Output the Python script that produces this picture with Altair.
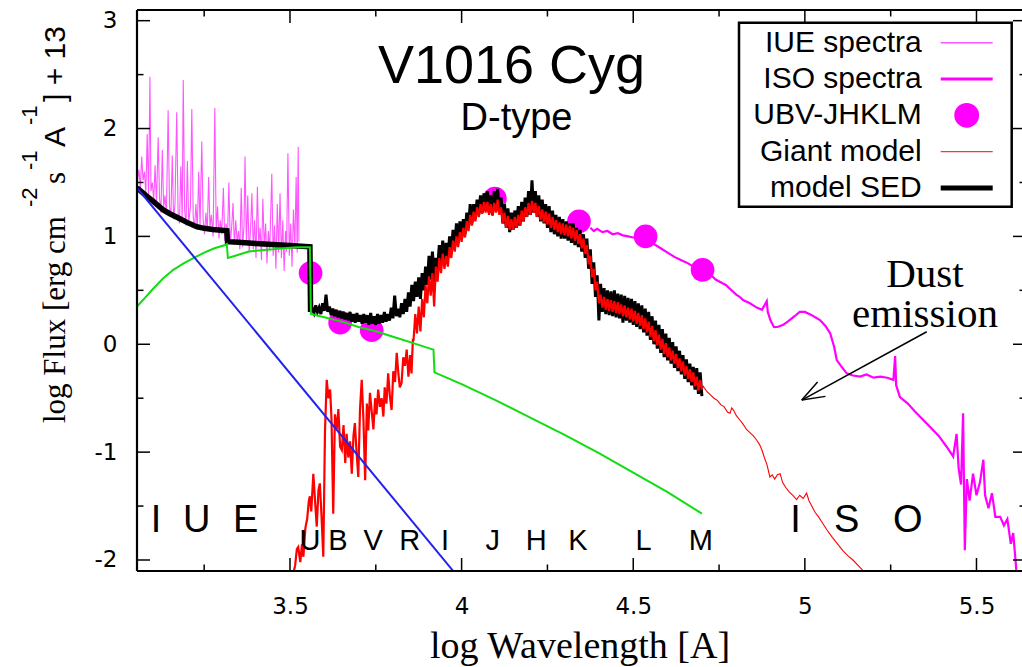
import altair as alt
import pandas as pd

# ---------------------------------------------------------------- data
# IUE ultraviolet spectrum (log lambda [A], log flux + 13)
iue = [
    (3.055, 1.50), (3.060, 1.62), (3.064, 1.45), (3.068, 1.74), (3.072, 1.52),
    (3.076, 1.60), (3.080, 1.40), (3.084, 1.95), (3.088, 1.38), (3.092, 2.48),
    (3.095, 1.42), (3.099, 1.50), (3.103, 1.33), (3.107, 1.66), (3.111, 1.30),
    (3.116, 1.92), (3.120, 1.35), (3.124, 1.22), (3.128, 1.80), (3.132, 1.26),
    (3.136, 1.38), (3.140, 1.20), (3.145, 2.17), (3.149, 1.28), (3.153, 1.18),
    (3.157, 1.75), (3.161, 1.16), (3.165, 1.30), (3.170, 2.15), (3.174, 1.22),
    (3.178, 1.12), (3.182, 1.65), (3.186, 1.15), (3.189, 2.45), (3.193, 1.25),
    (3.197, 1.10), (3.201, 1.70), (3.205, 1.12), (3.210, 1.28), (3.214, 2.18),
    (3.218, 1.18), (3.222, 1.08), (3.226, 1.30), (3.230, 1.06), (3.234, 1.60),
    (3.238, 1.10), (3.243, 1.88), (3.247, 1.15), (3.251, 1.02), (3.255, 1.22),
    (3.259, 1.05), (3.263, 1.55), (3.267, 1.08), (3.271, 1.20), (3.276, 1.00),
    (3.281, 2.19), (3.285, 1.05), (3.289, 1.28), (3.293, 0.98), (3.297, 1.15),
    (3.301, 1.02), (3.306, 1.45), (3.310, 0.96), (3.314, 1.12), (3.318, 0.98),
    (3.322, 1.50), (3.326, 0.94), (3.330, 1.08), (3.334, 1.31), (3.338, 0.92),
    (3.342, 1.15), (3.346, 0.95), (3.350, 1.05), (3.354, 0.88), (3.358, 1.45),
    (3.362, 0.90), (3.366, 1.10), (3.369, 1.74), (3.373, 0.92), (3.377, 1.38),
    (3.381, 0.85), (3.385, 1.05), (3.389, 1.40), (3.393, 0.88), (3.397, 1.15),
    (3.401, 0.80), (3.405, 1.46), (3.409, 0.92), (3.413, 1.08), (3.417, 0.78),
    (3.421, 1.35), (3.425, 0.90), (3.429, 1.12), (3.433, 0.75), (3.437, 1.05),
    (3.441, 0.88), (3.447, 1.58), (3.451, 0.82), (3.455, 1.10), (3.459, 0.70),
    (3.463, 1.30), (3.467, 0.85), (3.471, 1.40), (3.475, 0.80), (3.479, 1.15),
    (3.483, 0.68), (3.487, 1.05), (3.490, 0.86), (3.494, 1.77), (3.498, 0.82),
    (3.502, 1.12), (3.506, 0.72), (3.510, 1.25), (3.514, 0.90), (3.518, 1.55),
    (3.521, 0.85), (3.524, 1.83), (3.526, 0.95),
]

# ISO infrared spectrum
iso = [
    (4.375, 1.08), (4.385, 1.05), (4.395, 1.07), (4.410, 1.04), (4.425, 1.05),
    (4.440, 1.02), (4.455, 1.03), (4.470, 1.01), (4.485, 1.00), (4.500, 0.99),
    (4.520, 0.98), (4.540, 0.96), (4.560, 0.93), (4.580, 0.89), (4.600, 0.85),
    (4.620, 0.81), (4.640, 0.78), (4.660, 0.75), (4.680, 0.71), (4.700, 0.69),
    (4.720, 0.64), (4.730, 0.63), (4.740, 0.60), (4.760, 0.565), (4.770, 0.55),
    (4.780, 0.52), (4.800, 0.46), (4.810, 0.44), (4.820, 0.41), (4.840, 0.38),
    (4.860, 0.34), (4.875, 0.32), (4.889, 0.40), (4.892, 0.30), (4.900, 0.22),
    (4.910, 0.16), (4.920, 0.16), (4.937, 0.18), (4.950, 0.21), (4.970, 0.26),
    (4.985, 0.30), (5.000, 0.30), (5.020, 0.27), (5.030, 0.25), (5.044, 0.225),
    (5.060, 0.17), (5.074, 0.10), (5.085, -0.02), (5.093, -0.146), (5.105, -0.20),
    (5.122, -0.27), (5.140, -0.29), (5.161, -0.30), (5.180, -0.28), (5.200, -0.31),
    (5.220, -0.30), (5.240, -0.31), (5.258, -0.33), (5.263, -0.11), (5.266, -0.38),
    (5.277, -0.49), (5.300, -0.55), (5.320, -0.62), (5.335, -0.67), (5.360, -0.75),
    (5.390, -0.85), (5.413, -0.95), (5.432, -1.04), (5.442, -0.83), (5.448, -1.15),
    (5.455, -1.30), (5.461, -0.64), (5.466, -1.91), (5.472, -1.25), (5.480, -1.45),
    (5.490, -1.20), (5.500, -1.40), (5.510, -1.28), (5.520, -1.07), (5.525, -1.40),
    (5.535, -1.52), (5.545, -1.38), (5.555, -1.60), (5.569, -1.60), (5.580, -1.68),
    (5.590, -1.62), (5.600, -1.85), (5.607, -1.75), (5.615, -2.05), (5.620, -2.30),
]

# broad-band photometry U B V J K L M
phot_band = ["U", "B", "V", "J", "K", "L", "M"]
phot_x = [3.560, 3.646, 3.738, 4.097, 4.342, 4.536, 4.702]
phot_y = [0.66, 0.20, 0.13, 1.35, 1.14, 1.00, 0.69]

# hot component (blue) and nebular continuum (green)
hot = [(3.0543, 1.45), (3.975, -2.10)]
nebular = [
    (3.0543, 0.35), (3.080, 0.44), (3.100, 0.51), (3.130, 0.61), (3.160, 0.69),
    (3.190, 0.75), (3.220, 0.80), (3.250, 0.85), (3.280, 0.89), (3.311, 0.92),
    (3.316, 0.93), (3.319, 0.80), (3.350, 0.83), (3.380, 0.86), (3.410, 0.87),
    (3.451, 0.88), (3.480, 0.89), (3.520, 0.90), (3.558, 0.90), (3.561, 0.28),
    (3.600, 0.25), (3.650, 0.21), (3.700, 0.16), (3.750, 0.12), (3.800, 0.07),
    (3.850, 0.02), (3.918, -0.05), (3.921, -0.26), (4.000, -0.37), (4.100, -0.52),
    (4.200, -0.68), (4.300, -0.84), (4.400, -1.01), (4.500, -1.19), (4.600, -1.37),
    (4.700, -1.57),
]

# total model SED: smooth ultraviolet part, then the giant-dominated part
sed_uv = [
    (3.0543, 1.45), (3.080, 1.38), (3.100, 1.33), (3.131, 1.245), (3.150, 1.21),
    (3.175, 1.17), (3.200, 1.13), (3.228, 1.09), (3.250, 1.075), (3.275, 1.065),
    (3.300, 1.058), (3.316, 1.053), (3.318, 0.951), (3.350, 0.945), (3.400, 0.935),
    (3.450, 0.925), (3.500, 0.915), (3.558, 0.904), (3.560, 0.30),
]
sed_ir = [
    (3.560, 0.30), (3.565, 0.33), (3.570, 0.29), (3.575, 0.36), (3.580, 0.30),
    (3.585, 0.34), (3.590, 0.28), (3.595, 0.38), (3.600, 0.31), (3.605, 0.46),
    (3.610, 0.30), (3.615, 0.35), (3.620, 0.27), (3.625, 0.33), (3.630, 0.26),
    (3.635, 0.32), (3.640, 0.25), (3.645, 0.31), (3.650, 0.24), (3.655, 0.30),
    (3.660, 0.23), (3.665, 0.29), (3.670, 0.22), (3.675, 0.30), (3.680, 0.21),
    (3.685, 0.28), (3.690, 0.20), (3.695, 0.29), (3.700, 0.21), (3.705, 0.27),
    (3.710, 0.19), (3.715, 0.28), (3.720, 0.20), (3.725, 0.27), (3.730, 0.18),
    (3.735, 0.29), (3.740, 0.19), (3.745, 0.26), (3.750, 0.18), (3.755, 0.28),
    (3.760, 0.19), (3.765, 0.27), (3.770, 0.20), (3.775, 0.30), (3.780, 0.21),
    (3.785, 0.28), (3.790, 0.22), (3.795, 0.34), (3.800, 0.24), (3.805, 0.45),
    (3.810, 0.26), (3.815, 0.33), (3.820, 0.25), (3.825, 0.38), (3.830, 0.28),
    (3.835, 0.42), (3.840, 0.30), (3.845, 0.48), (3.850, 0.35), (3.855, 0.55),
    (3.860, 0.40), (3.865, 0.58), (3.870, 0.44), (3.875, 0.62), (3.880, 0.42),
    (3.885, 0.66), (3.890, 0.50), (3.895, 0.72), (3.900, 0.55), (3.905, 0.82),
    (3.910, 0.60), (3.915, 0.86), (3.920, 0.58), (3.925, 0.80), (3.930, 0.70),
    (3.935, 0.92), (3.940, 0.74), (3.945, 0.96), (3.950, 0.78), (3.955, 0.94),
    (3.960, 0.80), (3.965, 1.00), (3.970, 0.84), (3.975, 1.06), (3.980, 0.90),
    (3.985, 1.12), (3.990, 0.94), (3.995, 1.14), (4.000, 0.98), (4.005, 1.16),
    (4.010, 1.02), (4.015, 1.22), (4.020, 1.08), (4.025, 1.30), (4.030, 1.12),
    (4.035, 1.30), (4.040, 1.16), (4.045, 1.34), (4.050, 1.20), (4.055, 1.38),
    (4.060, 1.22), (4.065, 1.40), (4.070, 1.24), (4.075, 1.42), (4.080, 1.22),
    (4.085, 1.38), (4.090, 1.20), (4.095, 1.42), (4.100, 1.24), (4.105, 1.44),
    (4.110, 1.22), (4.115, 1.36), (4.120, 1.12), (4.125, 1.30), (4.130, 1.08),
    (4.135, 1.26), (4.140, 1.04), (4.145, 1.22), (4.150, 1.06), (4.155, 1.24),
    (4.160, 1.08), (4.165, 1.28), (4.170, 1.10), (4.175, 1.32), (4.180, 1.14),
    (4.185, 1.36), (4.190, 1.18), (4.195, 1.42), (4.200, 1.20), (4.205, 1.52),
    (4.210, 1.22), (4.215, 1.42), (4.220, 1.18), (4.225, 1.38), (4.230, 1.14),
    (4.235, 1.34), (4.240, 1.12), (4.245, 1.30), (4.250, 1.08), (4.255, 1.28),
    (4.260, 1.04), (4.265, 1.24), (4.270, 1.02), (4.275, 1.20), (4.280, 1.00),
    (4.285, 1.18), (4.290, 0.98), (4.295, 1.16), (4.300, 0.98), (4.305, 1.14),
    (4.310, 0.96), (4.315, 1.12), (4.320, 0.94), (4.325, 1.12), (4.330, 0.92),
    (4.335, 1.08), (4.340, 0.90), (4.345, 1.06), (4.350, 0.86), (4.355, 1.02),
    (4.360, 0.80), (4.365, 0.98), (4.370, 0.70), (4.375, 0.88), (4.380, 0.56),
    (4.385, 0.76), (4.390, 0.44), (4.395, 0.64), (4.400, 0.22), (4.405, 0.56),
    (4.410, 0.30), (4.415, 0.52), (4.420, 0.28), (4.425, 0.50), (4.430, 0.27),
    (4.435, 0.49), (4.440, 0.26), (4.445, 0.50), (4.450, 0.25), (4.455, 0.47),
    (4.460, 0.24), (4.465, 0.46), (4.470, 0.20), (4.475, 0.45), (4.480, 0.22),
    (4.485, 0.43), (4.490, 0.20), (4.495, 0.42), (4.500, 0.18), (4.505, 0.40),
    (4.510, 0.16), (4.515, 0.38), (4.520, 0.14), (4.525, 0.36), (4.530, 0.11),
    (4.535, 0.33), (4.540, 0.08), (4.545, 0.30), (4.550, 0.04), (4.555, 0.26),
    (4.560, 0.00), (4.565, 0.22), (4.570, -0.04), (4.575, 0.18), (4.580, -0.08),
    (4.585, 0.14), (4.590, -0.12), (4.595, 0.10), (4.600, -0.15), (4.605, 0.06),
    (4.610, -0.18), (4.615, 0.02), (4.620, -0.22), (4.625, -0.02), (4.630, -0.25),
    (4.635, -0.06), (4.640, -0.28), (4.645, -0.10), (4.650, -0.32), (4.655, -0.14),
    (4.660, -0.35), (4.665, -0.18), (4.670, -0.38), (4.675, -0.21), (4.680, -0.42),
    (4.685, -0.22), (4.690, -0.46), (4.695, -0.26), (4.700, -0.48),
]

# cool giant model spectrum
giant = [
    (3.505, -2.20), (3.515, -2.05), (3.520, -1.90), (3.524, -1.88), (3.530, -2.02),
    (3.535, -1.85), (3.539, -1.97), (3.545, -1.70), (3.550, -1.62), (3.555, -1.45),
    (3.558, -1.41), (3.562, -1.55), (3.568, -1.20), (3.572, -1.40), (3.578, -1.69),
    (3.583, -1.35), (3.587, -1.29), (3.592, -1.60), (3.597, -1.97), (3.602, -0.80),
    (3.607, -0.33), (3.612, -0.50), (3.617, -0.42), (3.621, -0.70), (3.626, -1.57),
    (3.631, -0.65), (3.636, -0.79), (3.641, -0.60), (3.646, -0.95), (3.651, -0.98),
    (3.656, -0.75), (3.661, -1.10), (3.665, -0.83), (3.670, -1.05), (3.675, -0.90),
    (3.680, -1.20), (3.685, -0.85), (3.689, -0.73), (3.694, -1.00), (3.699, -1.23),
    (3.704, -0.60), (3.709, -0.33), (3.714, -0.70), (3.719, -1.26), (3.724, -0.55),
    (3.728, -0.80), (3.733, -0.45), (3.738, -0.62), (3.743, -0.79), (3.748, -0.50),
    (3.752, -0.65), (3.757, -0.42), (3.762, -0.58), (3.767, -0.50), (3.772, -0.67),
    (3.776, -0.40), (3.781, -0.55), (3.786, -0.27), (3.791, -0.48), (3.796, -0.61),
    (3.801, -0.25), (3.806, -0.35), (3.811, -0.08), (3.816, -0.28), (3.820, -0.40),
    (3.825, -0.36), (3.830, -0.12), (3.835, -0.20), (3.840, -0.05), (3.845, -0.30),
    (3.850, -0.10), (3.854, -0.27), (3.858, 0.04),
    (3.860, 0.04), (3.865, 0.28), (3.870, 0.10), (3.875, 0.35), (3.880, 0.12),
    (3.885, 0.42), (3.890, 0.25), (3.895, 0.55), (3.900, 0.38), (3.905, 0.63),
    (3.910, 0.45), (3.915, 0.66), (3.920, 0.35), (3.925, 0.72), (3.930, 0.58),
    (3.935, 0.80), (3.940, 0.66), (3.945, 0.84), (3.950, 0.70), (3.955, 0.82),
    (3.960, 0.72), (3.965, 0.90), (3.970, 0.80), (3.975, 0.96), (3.980, 0.86),
    (3.985, 1.00), (3.990, 0.90), (3.995, 1.04), (4.000, 0.95), (4.005, 1.08),
    (4.010, 0.99), (4.015, 1.14), (4.020, 1.05), (4.025, 1.20), (4.030, 1.10),
    (4.035, 1.23), (4.040, 1.14), (4.045, 1.27), (4.050, 1.18), (4.055, 1.30),
    (4.060, 1.21), (4.065, 1.32), (4.070, 1.22), (4.075, 1.32), (4.080, 1.20),
    (4.085, 1.30), (4.090, 1.19), (4.095, 1.31), (4.100, 1.22), (4.105, 1.34),
    (4.110, 1.20), (4.115, 1.27), (4.120, 1.12), (4.125, 1.22), (4.130, 1.08),
    (4.135, 1.19), (4.140, 1.06), (4.145, 1.16), (4.150, 1.06), (4.155, 1.18),
    (4.160, 1.08), (4.165, 1.20), (4.170, 1.10), (4.175, 1.24), (4.180, 1.14),
    (4.185, 1.27), (4.190, 1.18), (4.195, 1.31), (4.200, 1.20), (4.205, 1.33),
    (4.210, 1.22), (4.215, 1.31), (4.220, 1.18), (4.225, 1.28), (4.230, 1.15),
    (4.235, 1.25), (4.240, 1.13), (4.245, 1.23), (4.250, 1.11), (4.255, 1.21),
    (4.260, 1.08), (4.265, 1.18), (4.270, 1.06), (4.275, 1.15), (4.280, 1.04),
    (4.285, 1.13), (4.290, 1.02), (4.295, 1.12), (4.300, 1.01), (4.305, 1.11),
    (4.310, 1.00), (4.315, 1.10), (4.320, 0.98), (4.325, 1.08), (4.330, 0.96),
    (4.335, 1.06), (4.340, 0.93), (4.345, 1.02), (4.350, 0.89), (4.355, 0.98),
    (4.360, 0.84), (4.365, 0.92), (4.370, 0.74), (4.375, 0.82), (4.380, 0.62),
    (4.385, 0.70), (4.390, 0.50), (4.395, 0.58), (4.400, 0.38), (4.405, 0.46),
    (4.410, 0.34), (4.415, 0.44), (4.420, 0.32), (4.425, 0.42), (4.430, 0.31),
    (4.435, 0.41), (4.440, 0.30), (4.445, 0.40), (4.450, 0.29), (4.455, 0.39),
    (4.460, 0.28), (4.465, 0.37), (4.470, 0.26), (4.475, 0.36), (4.480, 0.25),
    (4.485, 0.34), (4.490, 0.23), (4.495, 0.33), (4.500, 0.21), (4.505, 0.31),
    (4.510, 0.19), (4.515, 0.29), (4.520, 0.17), (4.525, 0.27), (4.530, 0.14),
    (4.535, 0.24), (4.540, 0.11), (4.545, 0.21), (4.550, 0.07), (4.555, 0.17),
    (4.560, 0.03), (4.565, 0.13), (4.570, -0.01), (4.575, 0.09), (4.580, -0.05),
    (4.585, 0.05), (4.590, -0.09), (4.595, 0.01), (4.600, -0.12), (4.605, -0.03),
    (4.610, -0.15), (4.615, -0.06), (4.620, -0.18), (4.625, -0.09), (4.630, -0.22),
    (4.635, -0.13), (4.640, -0.25), (4.645, -0.16), (4.650, -0.29), (4.655, -0.20),
    (4.660, -0.32), (4.665, -0.23), (4.670, -0.35), (4.675, -0.26), (4.680, -0.39),
    (4.685, -0.30), (4.690, -0.43), (4.695, -0.33), (4.700, -0.42),
]
giant_tail = [
    (4.700, -0.42), (4.704, -0.39), (4.715, -0.44), (4.725, -0.47), (4.735, -0.50),
    (4.745, -0.52), (4.755, -0.56), (4.765, -0.58), (4.775, -0.63), (4.782, -0.64),
    (4.787, -0.59), (4.792, -0.61), (4.800, -0.66), (4.810, -0.70), (4.820, -0.74),
    (4.830, -0.79), (4.840, -0.82), (4.850, -0.85), (4.860, -0.89), (4.868, -0.93),
    (4.875, -0.98), (4.882, -1.05), (4.890, -1.12), (4.898, -1.23), (4.905, -1.21),
    (4.912, -1.25), (4.920, -1.21), (4.928, -1.20), (4.935, -1.28), (4.945, -1.33),
    (4.955, -1.37), (4.965, -1.40), (4.976, -1.44), (4.985, -1.40), (4.995, -1.43),
    (5.005, -1.38), (5.012, -1.45), (5.020, -1.50), (5.030, -1.56), (5.040, -1.60),
    (5.050, -1.65), (5.064, -1.72), (5.080, -1.79), (5.095, -1.85), (5.110, -1.91),
    (5.125, -1.96), (5.140, -2.00), (5.155, -2.05), (5.170, -2.10), (5.180, -2.15),
]

# photometric band names along the bottom
band_names = ["U", "B", "V", "R", "I", "J", "H", "K", "L", "M"]
band_x = [3.558, 3.640, 3.742, 3.849, 3.952, 4.091, 4.217, 4.339, 4.530, 4.697]
band_y = -1.908
iue_letters = ["I", "U", "E"]
iue_letters_x = [3.110, 3.228, 3.371]
iso_letters = ["I", "S", "O"]
iso_letters_x = [4.973, 5.122, 5.300]
instr_y = -1.741

# "Dust emission" note and its arrow
dust_note = "Dust\nemission"
dust_x = 5.350
dust_y = 0.530
arrow_shaft = [(5.355, 0.116), (4.991, -0.517)]
arrow_wing_a = [(4.991, -0.517), (5.060, -0.483)]
arrow_wing_b = [(4.991, -0.517), (5.037, -0.350)]

legend_labels = ["IUE spectra", "ISO spectra", "UBV-JHKLM", "Giant model", "model SED"]

x_major = [3.5, 4.0, 4.5, 5.0, 5.5]
x_minor = [3.25, 3.75, 4.25, 4.75, 5.25]
y_major = [-2, -1, 0, 1, 2, 3]
y_minor = [-1.5, -0.5, 0.5, 1.5, 2.5]

# ---------------------------------------------------------------- layout
W, H = 885, 561
MAGENTA = "#ff00ff"
IUE_PINK = "#ff55ff"

xs = alt.Scale(domain=[3.0543, 5.6326], nice=False, zero=False)
ys = alt.Scale(domain=[-2.102, 3.099], nice=False, zero=False)

x_axis = alt.Axis(
    title="log Wavelength [A]", values=x_major, labelExpr="toString(datum.value)",
    domain=False, ticks=False, grid=False, labelFont="DejaVu Sans", labelFontSize=23,
    labelColor="black", labelPadding=24, labelFlush=False, labelOverlap=False,
    titleFont="Liberation Serif", titleFontSize=38, titleFontWeight="normal",
    titleColor="black", titleY=86, titleBaseline="alphabetic",
)
y_axis = alt.Axis(
    title=None, values=y_major, labelExpr="toString(datum.value)",
    domain=False, ticks=False, grid=False, labelFont="DejaVu Sans", labelFontSize=23,
    labelColor="black", labelPadding=20, labelFlush=False, labelOverlap=False,
)
X = alt.X("x:Q", scale=xs, axis=x_axis)
Y = alt.Y("y:Q", scale=ys, axis=y_axis)

one_row = pd.DataFrame({"a": [0]})


def frame(pairs):
    return pd.DataFrame({"x": [p[0] for p in pairs], "y": [p[1] for p in pairs],
                         "i": list(range(len(pairs)))})


def line(pairs, color, width, opacity=1.0):
    return alt.Chart(frame(pairs)).mark_line(
        color=color, strokeWidth=width, opacity=opacity, clip=True
    ).encode(x=X, y=Y, order="i:Q")


def px_text(text, x, y, size, font="Liberation Sans", align="center",
            baseline="alphabetic", angle=0):
    kw = dict(text=text, font=font, fontSize=size, align=align,
              baseline=baseline, color="black")
    if angle:
        kw["angle"] = angle
    return alt.Chart(one_row).mark_text(**kw).encode(x=alt.value(x), y=alt.value(y))


def px_rule(x, y, x2=None, y2=None, color="black", width=2.0):
    enc = dict(x=alt.value(x), y=alt.value(y))
    if x2 is not None:
        enc["x2"] = alt.value(x2)
    if y2 is not None:
        enc["y2"] = alt.value(y2)
    return alt.Chart(one_row).mark_rule(color=color, strokeWidth=width).encode(**enc)


layers = []

# spectra and models
layers.append(line(iue, IUE_PINK, 1.1))
layers.append(line(iso, MAGENTA, 2.2))
phot_df = pd.DataFrame({"x": phot_x, "y": phot_y, "band": phot_band})
layers.append(alt.Chart(phot_df).mark_point(
    filled=True, color=MAGENTA, size=560, opacity=1, clip=True).encode(x=X, y=Y))
layers.append(line(sed_ir, "black", 3.0))
layers.append(line(sed_uv, "black", 5.5))
layers.append(line(giant, "#ff0000", 2.2))
layers.append(line(giant_tail, "#ff0000", 1.1))
layers.append(line(nebular, "#11dd11", 2.0))
layers.append(line(hot, "#2222ee", 2.0))

# frame (left, top, bottom) and inward ticks
layers.append(px_rule(0, 0, y2=H, width=2.2))
layers.append(px_rule(0, 0, x2=W, width=2.2))
layers.append(px_rule(0, H, x2=W, width=2.2))


def xtick(values, y, y2):
    return alt.Chart(pd.DataFrame({"x": values})).mark_rule(
        color="black", strokeWidth=1.5).encode(x=X, y=alt.value(y), y2=alt.value(y2))


def ytick(values, x, x2):
    return alt.Chart(pd.DataFrame({"y": values})).mark_rule(
        color="black", strokeWidth=1.5).encode(y=Y, x=alt.value(x), x2=alt.value(x2))


layers += [
    xtick(x_major, H, H - 13), xtick(x_minor, H, H - 6.5),
    xtick(x_major, 0, 13), xtick(x_minor, 0, 6.5),
    ytick(y_major, 0, 13), ytick(y_minor, 0, 6.5),
    ytick(y_major, W - 9, W), ytick(y_minor, W - 2.5, W),
]

# band letters
bands_df = pd.DataFrame({"x": band_x, "y": [band_y] * len(band_x), "t": band_names})
layers.append(alt.Chart(bands_df).mark_text(
    font="Liberation Sans", fontSize=29, baseline="alphabetic", color="black"
).encode(x=X, y=Y, text="t:N"))
instr_df = pd.DataFrame({
    "x": iue_letters_x + iso_letters_x,
    "y": [instr_y] * 6,
    "t": iue_letters + iso_letters,
})
layers.append(alt.Chart(instr_df).mark_text(
    font="Liberation Sans", fontSize=38, baseline="alphabetic", color="black"
).encode(x=X, y=Y, text="t:N"))

# dust emission note (one two-line text) and its arrow
dust_df = pd.DataFrame({"x": [dust_x], "y": [dust_y], "t": [dust_note]})
layers.append(alt.Chart(dust_df).mark_text(
    font="Liberation Serif", fontSize=41, baseline="alphabetic", color="black",
    lineBreak="\n", lineHeight=40,
).encode(x=X, y=Y, text="t:N"))
layers.append(line(arrow_shaft, "black", 1.5))
layers.append(line(arrow_wing_a, "black", 1.5))
layers.append(line(arrow_wing_b, "black", 1.5))

# title
layers.append(px_text("V1016 Cyg", 374.5, 73, 54))
layers.append(px_text("D-type", 379.5, 120, 38))

# y axis title, written in pieces so the exponents sit raised
layers.append(px_text("log Flux [erg cm", -72, 413, 31, font="Liberation Serif",
                      align="left", angle=270))
layers.append(px_text("-2", -100, 197, 22, align="left", angle=270))
layers.append(px_text("s", -72, 174, 31, font="Liberation Serif", align="left", angle=270))
layers.append(px_text("-1", -100, 160, 22, align="left", angle=270))
layers.append(px_text("A", -72, 137, 30, align="left", angle=270))
layers.append(px_text("-1", -100, 115, 22, align="left", angle=270))
layers.append(px_text("] + 13", -72, 92, 30, align="left", angle=270))

# legend box
box_l, box_r, box_t, box_b = 602, 874.7, 12.7, 196.7
layers.append(alt.Chart(one_row).mark_rect(
    fill="white", stroke="black", strokeWidth=2.5
).encode(x=alt.value(box_l), x2=alt.value(box_r), y=alt.value(box_t), y2=alt.value(box_b)))
row0, row_step = 32.7, 36.3
text_right, samp_l, samp_r = 784.7, 803.7, 855.7
samples = [(IUE_PINK, 1.5), (MAGENTA, 3.0), None, ("#ff3333", 1.3), ("black", 5.0)]
for k, lab in enumerate(legend_labels):
    ry = row0 + k * row_step
    layers.append(px_text(lab, text_right, ry, 30, align="right", baseline="middle"))
    if samples[k] is None:
        layers.append(alt.Chart(one_row).mark_point(
            filled=True, color=MAGENTA, size=616, opacity=1
        ).encode(x=alt.value((samp_l + samp_r) / 2), y=alt.value(ry)))
    else:
        c, w = samples[k]
        layers.append(px_rule(samp_l, ry, x2=samp_r, color=c, width=w))

chart = alt.layer(*layers).properties(
    width=W, height=H,
    padding={"left": 137, "top": 10, "right": 0, "bottom": 96},
    autosize=alt.AutoSizeParams(type="none"),
    background="white",
).configure_view(strokeWidth=0)

chart.save("out.html", embed_options={"renderer": "svg", "actions": False})
